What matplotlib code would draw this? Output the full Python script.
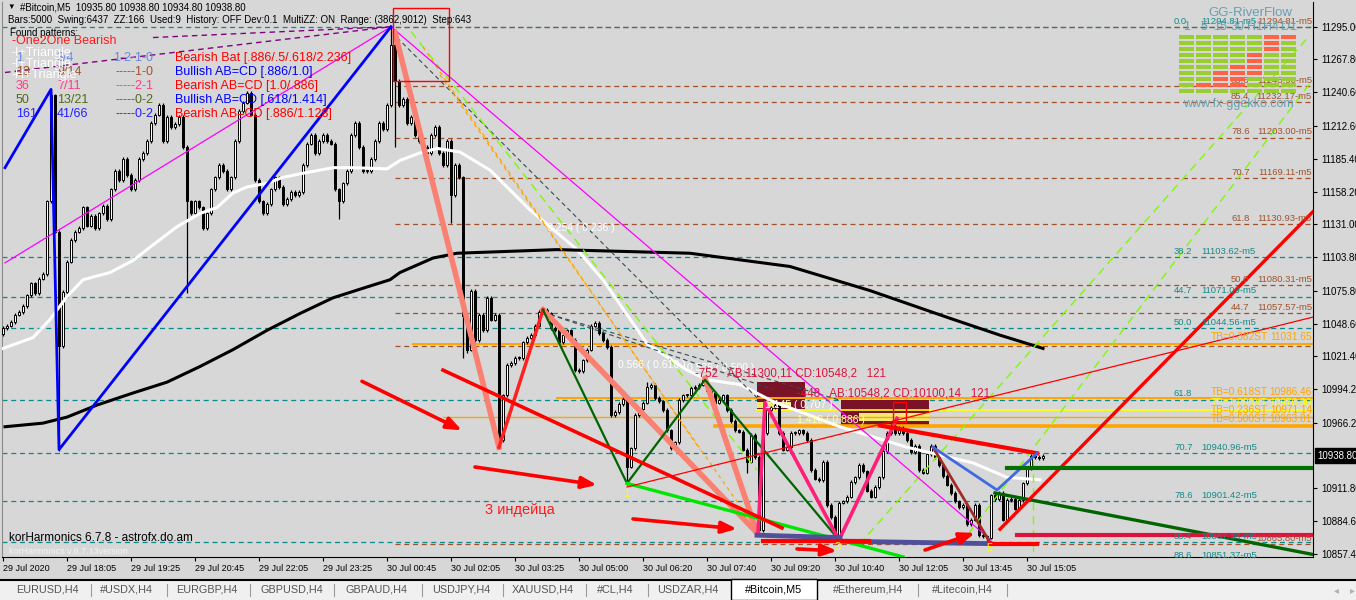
import numpy as np
import matplotlib
matplotlib.use("Agg")
import matplotlib.pyplot as plt
from matplotlib.patches import Rectangle

plt.rcParams['font.family'] = ['Liberation Sans', 'DejaVu Sans']

W, H = 1356, 600
BG = '#d7d7d7'

# ---- price data: one close per 5-minute bar (open = previous close) ----
FIRST_OPEN = 11040
CLOSES = [
    11045, 11047, 11050, 11056, 11058, 11063, 11072, 11082, 11074, 11086,
    11090, 11150, 11238, 11125, 11030, 11075, 11100, 11118, 11125, 11128,
    11145, 11130, 11138, 11128, 11140, 11146, 11135, 11160, 11175, 11168,
    11185, 11172, 11160, 11168, 11185, 11190, 11200, 11215, 11222, 11230,
    11200, 11220, 11212, 11214, 11220, 11195, 11150, 11140, 11150, 11145,
    11128, 11140, 11160, 11170, 11180, 11175, 11160, 11170, 11200, 11225,
    11232, 11240, 11222, 11168, 11150, 11140, 11148, 11160, 11170, 11162,
    11148, 11152, 11158, 11155, 11158, 11180, 11198, 11205, 11190, 11200,
    11205, 11200, 11198, 11160, 11150, 11165, 11175, 11205, 11215, 11195,
    11175, 11175, 11185, 11200, 11215, 11210, 11230, 11280, 11250, 11230,
    11235, 11215, 11220, 11205, 11200, 11195, 11190, 11205, 11212, 11190,
    11180, 11200, 11155, 11180, 11170, 11055, 11027, 11076, 11035, 11056,
    11043, 11070, 11052, 11056, 10952, 10989, 11014, 11016, 11020, 11020,
    11033, 11037, 11039, 11047, 11058, 11060, 11057, 11045, 11043, 11033,
    11039, 11043, 11035, 11010, 11009, 11018, 11027, 11047, 11049, 11041,
    11035, 11029, 10973, 10975, 10982, 10986, 10930, 10945, 10973, 10978,
    10983, 10996, 10998, 10987, 10984, 10977, 10960, 10945, 10950, 10985,
    10989, 10989, 10995, 10996, 10998, 11002, 10993, 10991, 10983, 10985,
    10989, 10977, 10968, 10960, 10959, 10944, 10934, 10956, 10938, 10877,
    10958, 10977, 10979, 10981, 10958, 10944, 10946, 10958, 10958, 10960,
    10958, 10952, 10927, 10920, 10919, 10934, 10898, 10888, 10872, 10900,
    10901, 10905, 10917, 10921, 10931, 10926, 10910, 10905, 10913, 10921,
    10943, 10958, 10964, 10958, 10962, 10958, 10952, 10942, 10947, 10927,
    10925, 10940, 10947, 10938, 10931, 10922, 10915, 10908, 10901, 10896,
    10898, 10882, 10886, 10898, 10873, 10872, 10871, 10906, 10903, 10908,
    10886, 10902, 10903, 10895, 10902, 10916, 10929, 10939, 10938, 10937,
    10938.8,
]
# long wicks (bar index -> extreme)
HIGH_SPIKES = {12: 11243, 97: 11295, 135: 11062, 161: 11000, 175: 11004, 223: 10970}
LOW_SPIKES = {14: 10943, 46: 11074, 84: 11135, 98: 11195, 112: 11132, 115: 11020,
              116: 11024, 124: 10946, 156: 10915, 186: 10925, 189: 10875,
              208: 10869, 246: 10866}

TIME_LABELS = ['29 Jul 2020', '29 Jul 18:05', '29 Jul 19:25', '29 Jul 20:45',
               '29 Jul 22:05', '29 Jul 23:25', '30 Jul 00:45', '30 Jul 02:05',
               '30 Jul 03:25', '30 Jul 05:00', '30 Jul 06:20', '30 Jul 07:40',
               '30 Jul 09:20', '30 Jul 10:40', '30 Jul 12:05', '30 Jul 13:45',
               '30 Jul 15:05']
PRICE_TICKS = [11295.00, 11267.80, 11240.60, 11212.60, 11185.40, 11158.20,
               11131.00, 11103.80, 11075.80, 11048.60, 11021.40, 10994.20,
               10966.20, 10911.80, 10884.60, 10857.40]
LAST_PRICE = 10938.80

# moving averages, read at (bar, price)
MA_FAST_BARS = [0, 7.5, 11.75, 16, 20, 26.75, 32.5, 36.75, 43.5, 49.25, 53.5, 57.5,
                61, 66, 70, 76, 82.5, 87.5, 96, 99.25, 104, 108.5, 114.25, 121.75,
                131.75, 143.5, 150, 161, 171, 176, 184.25, 192.5, 209.25, 226,
                242.5, 251, 259.25]
MA_FAST = [11028, 11037, 11052, 11071, 11085, 11091, 11101, 11112, 11129, 11140,
           11145, 11157, 11162, 11165, 11170, 11174, 11178, 11178, 11177, 11184,
           11190, 11194, 11191, 11176, 11143, 11110, 11085, 11032, 11010, 11002,
           10998, 10984, 10963, 10946, 10933, 10921, 10919]
MA_SLOW_BARS = [0.5, 10, 16, 23.5, 32.5, 41, 49.25, 57.5, 66, 74.25, 82.5, 91,
                96.75, 99.25, 107.5, 113.5, 138.5, 171.75, 196.75, 216.75,
                236.75, 249.25, 260]
MA_SLOW = [10963, 10966, 10971, 10981, 10991, 11000, 11013, 11027, 11043, 11057,
           11070, 11079, 11085, 11091, 11103, 11107, 11110, 11107, 11096, 11076,
           11053, 11039, 11028]

# harmonic / zigzag objects as (bar, price)
BLUE_ZZ = [(0.5, 11178), (12, 11243), (14, 10944), (97, 11295)]
MAGENTA = [(0.5, 11099), (97, 11295), (247, 10869)]
PURPLE_DASH = [[(0.5, 11257), (97, 11295)], [(37.5, 11286), (97, 11295)]]
SALMON = [[(98, 11290), (124, 10946)], [(135, 11060), (188.5, 10875)],
          [(175.5, 11003), (188.5, 10875)]]
RED_ZZ = [(124, 10946), (135, 11060)]
GREEN_ZZ = [(135, 11060), (156, 10916), (175.5, 11002), (209, 10869)]
PINK_ZZ = [(188.75, 10875), (190.5, 10983), (209, 10869), (223.5, 10970)]
LIME = [(156, 10916), (225, 10855)]
GREEN_TREND = [(248, 10908), (327.5, 10857)]
RED_TREND = [(219.25, 10964), (258.5, 10941)]
RED_UP = [(249.25, 10878), (327.5, 11141.5)]
RED_THIN = [(156, 10913), (327.5, 11054)]
RED_LONG = [(110, 11010), (194.75, 10879)]
BROWN_LEG = [(232.5, 10946), (246.75, 10867)]
ROYAL_ZZ = [(232.5, 10946), (248.5, 10910.5), (258.5, 10941)]
SLATE_BARS = [[(188.5, 10873), (209.25, 10871)], [(209.25, 10868), (246.75, 10866)]]
RED_FLAT = [[(190, 10868), (216.5, 10868)], [(246.75, 10866), (258.5, 10866)]]
GRAY_DASH = [[(98.5, 11286), (188.5, 10987)], [(135, 11058), (192.5, 10994)],
             [(135, 11058), (209.25, 10985)]]
LAWN_DASH = [[(102, 11291), (188.5, 10927)], [(214, 10865), (326.75, 11288)],
             [(239.25, 10865), (326.75, 11248)], [(257.5, 10935), (257.5, 10855)]]
ORANGE_DASH = [[(105, 11278), (174.25, 10944)], [(109.25, 11255), (188.5, 10877)]]
ARROWS = [((89.75, 11000.7), (114.75, 10960)), ((118, 10929.6), (148.5, 10914.7)),
          ((157.5, 10886.5), (183.5, 10878.2)), ((198.5, 10861.6), (208.5, 10860)),
          ((230.5, 10860.7), (243, 10874.9))]
GREEN_FLAT = 10929
GREEN_FLAT_FROM = 251
CRIMSON_FLAT = 10873.5
CRIMSON_FLAT_FROM = 253.5

# zones (bar0, bar1, price0, price1)
MAROON_BOXES = [(188.5, 200.5, 10978, 11000.5), (209.5, 231.5, 10964.7, 10985.4)]
YELLOW_STRIPS = [(188.5, 197, 10978.5, 10983.5), (214, 231.5, 10967.6, 10974.3)]
RED_FRAMES = [(97.5, 111.5, 11250, 11310.5), (222.5, 225.75, 10967, 10983.5)]

# fibo levels
TEAL_LEVELS = [11294.81, 11103.62, 11071.09, 11044.56, 10985.50, 10940.96,
               10901.42, 10867.39, 10851.37]
TEAL_PCT = ['0.0', '38.2', '44.7', '50.0', '61.8', '70.7', '78.6', '85.4', '88.6']
TEAL_TXT = ['11294.81-m5', '11103.62-m5', '11071.09-m5', '11044.56-m5', '',
            '10940.96-m5', '10901.42-m5', '10867.39-m5', '10851.37-m5']
BROWN_LEVELS = [11294.81, 11245.90, 11232.17, 11203.00, 11169.11, 11130.93,
                11080.31, 11057.57, 11029.70, 10865.80]
BROWN_PCT = ['', '88.6', '85.4', '78.6', '70.7', '61.8', '50.0', '44.7', '', '']
BROWN_TXT = ['11294.81-m5', '11245.90-m5', '11232.17-m5', '11203.00-m5',
             '11169.11-m5', '11130.93-m5', '11080.31-m5', '11057.57-m5', '',
             '10865.80-m5']
TB_LEVELS = [11031.65, 10986.46, 10976.80, 10971.14, 10963.81]
TB_NAMES = ['TB=0.382ST', 'TB=0.618ST', 'TB=1.000XT', 'TB=0.236ST', 'TB=0.500ST']
TB_FROM = [102.5, 138.5, 188.5, 110, 178]

# pattern list
PAT_NUM = ['1', '13', '36', '50', '161']
PAT_FRAC = ['3/4', '9/14', '7/11', '13/21', '41/66']
PAT_CODE = ['1-2-1-0', '-----1-0', '-----2-1', '-----0-2', '-----0-2']
PAT_NAME = ['Bearish Bat [.886/.5/.618/2.236]', 'Bullish AB=CD [.886/1.0]',
            'Bearish AB=CD [1.0/.886]', 'Bullish AB=CD [.618/1.414]',
            'Bearish AB=CD [.886/1.128]']
PAT_COLORS = ['#6a86e0', '#a0522d', '#ff3c80', '#4f6b1a', '#2222ff']

# GG-RiverFlow state: columns 1,5,15,30,H1,H4,D1 ; rows top->bottom, 1 = red
RIVER_COLS = ['1', '5', '15', '30', 'H1', 'H4', 'D1']
RIVER_STATE = [
    [0, 0, 0, 0, 0, 1, 1],
    [0, 0, 0, 0, 0, 1, 0],
    [0, 0, 0, 0, 0, 1, 0],
    [0, 0, 0, 0, 1, 0, 0],
    [0, 0, 0, 0, 1, 0, 0],
    [0, 0, 0, 1, 1, 0, 0],
    [0, 0, 1, 1, 1, 0, 0],
    [0, 0, 1, 1, 0, 0, 0],
    [0, 1, 1, 1, 0, 0, 0],
    [0, 0, 0, 0, 0, 0, 0],
]

TABS = ['EURUSD,H4', '#USDX,H4', 'EURGBP,H4', 'GBPUSD,H4', 'GBPAUD,H4', 'USDJPY,H4',
        'XAUUSD,H4', '#CL,H4', 'USDZAR,H4', '#Bitcoin,M5', '#Ethereum,H4', '#Litecoin,H4']
ACTIVE_TAB = '#Bitcoin,M5'


def fx(x):
    return x / W


def fy(y):
    return 1 - y / H


fig = plt.figure(figsize=(W / 100, H / 100), dpi=100, facecolor=BG)
ax = fig.add_axes([fx(2), fy(557), 1311 / W, 555 / H])
ax.set_facecolor(BG)
X_MAX = 327.5
ax.set_xlim(-0.25, X_MAX)
ax.set_ylim(10854.9, 11315.5)

# fibo levels
dash = (0, (4, 3))
for lv in TEAL_LEVELS:
    ax.plot([-0.25, X_MAX], [lv, lv], color='#0a8a8a', lw=0.9, ls=dash, zorder=1)
for lv in BROWN_LEVELS:
    ax.plot([98, X_MAX], [lv, lv], color='#a0522d', lw=0.9, ls=dash, zorder=1)
for lv, p, t in zip(TEAL_LEVELS, TEAL_PCT, TEAL_TXT):
    ax.text(292.75, lv + 1, p, color='#138a8a', fontsize=6.8, va='bottom', zorder=8)
    ax.text(299.5, lv + 1, t, color='#138a8a', fontsize=6.8, va='bottom', zorder=8)
for lv, p, t in zip(BROWN_LEVELS, BROWN_PCT, BROWN_TXT):
    ax.text(307, lv + 1, p, color='#a0522d', fontsize=6.8, va='bottom', zorder=8)
    ax.text(327.25, lv + 1, t, color='#a0522d', fontsize=6.8, va='bottom', ha='right', zorder=8)

# TB lines
tb_colors = ['#ffa500', '#ffa500', '#ffff00', '#ffa500', '#ffa500']
tb_widths = [1.4, 1.4, 1.2, 1.0, 2.6]
for lv, name, x0, c, lw in zip(TB_LEVELS, TB_NAMES, TB_FROM, tb_colors, tb_widths):
    ax.plot([x0, X_MAX], [lv, lv], color=c, lw=lw, zorder=2)
    ax.text(302, lv + 1.5, name, color=c, fontsize=7.3, va='bottom', zorder=8)
    ax.text(327.25, lv + 1.5, f'{lv:.2f}', color=c, fontsize=7.3, va='bottom',
            ha='right', zorder=8)

# zones
for b0, b1, p0, p1 in MAROON_BOXES:
    ax.add_patch(Rectangle((b0, p0), b1 - b0, p1 - p0, facecolor='#7a1228',
                           edgecolor='none', zorder=1.5))
for b0, b1, p0, p1 in YELLOW_STRIPS:
    ax.add_patch(Rectangle((b0, p0), b1 - b0, p1 - p0, facecolor='#f2ea70',
                           edgecolor='none', zorder=1.6))
for b0, b1, p0, p1 in RED_FRAMES:
    ax.add_patch(Rectangle((b0, p0), b1 - b0, p1 - p0, facecolor='none',
                           edgecolor='#ff0000', lw=1, zorder=6))

# candles
closes = np.array(CLOSES, dtype=float)
opens = np.r_[FIRST_OPEN, closes[:-1]]
bars = np.arange(len(closes))
highs = np.maximum(opens, closes) + 1.5
lows = np.minimum(opens, closes) - 1.5
for i, v in HIGH_SPIKES.items():
    highs[i] = v
for i, v in LOW_SPIKES.items():
    lows[i] = v
up = closes >= opens
body = np.maximum(np.abs(closes - opens), 0.8)
ax.vlines(bars, lows, highs, color='black', lw=0.9, zorder=3)
ax.bar(bars[up], body[up], bottom=opens[up], width=0.72, facecolor='white',
       edgecolor='black', lw=0.7, zorder=3.5)
ax.bar(bars[~up], body[~up], bottom=closes[~up], width=0.72, facecolor='black',
       edgecolor='black', lw=0.7, zorder=3.5)

# moving averages
ax.plot(MA_FAST_BARS, MA_FAST, color='white', lw=2.2, zorder=4)
ax.plot(MA_SLOW_BARS, MA_SLOW, color='black', lw=2.2, zorder=4)


def seg(pts, **kw):
    xs, ys = zip(*pts)
    ax.plot(xs, ys, **kw)


for pts in GRAY_DASH:
    seg(pts, color='#2f4f4f', lw=0.8, ls=dash, zorder=4.5)
for pts in LAWN_DASH:
    seg(pts, color='#7cfc00', lw=1.0, ls=(0, (6, 4)), zorder=4.5)
for pts in ORANGE_DASH:
    seg(pts, color='#ffa500', lw=0.9, ls=(0, (3, 3)), zorder=4.5)
for pts in PURPLE_DASH:
    seg(pts, color='#800080', lw=1.0, ls=dash, zorder=4.5)
seg(MAGENTA, color='#ff00ff', lw=0.9, zorder=4.6)
for pts in SALMON:
    seg(pts, color='#fa8072', lw=4, zorder=5)
seg(BLUE_ZZ, color='#0000ff', lw=2, zorder=5)
seg(RED_ZZ, color='#ff2020', lw=2.5, zorder=5)
seg(GREEN_ZZ, color='#006400', lw=1.6, zorder=5)
seg(PINK_ZZ, color='#ff1e78', lw=2.6, zorder=5)
seg(LIME, color='#00e600', lw=2.4, zorder=5)
seg(GREEN_TREND, color='#006400', lw=2.4, zorder=5)
seg(RED_TREND, color='#ff0000', lw=3, zorder=5)
seg(RED_UP, color='#ff0000', lw=2.4, zorder=5)
seg(RED_THIN, color='#ff0000', lw=0.9, zorder=5)
seg(RED_LONG, color='#ff0000', lw=2.6, zorder=5)
seg(BROWN_LEG, color='#a52a2a', lw=2, zorder=5)
seg(ROYAL_ZZ, color='#4169e1', lw=2, zorder=5)
for pts in SLATE_BARS:
    seg(pts, color='#50509a', lw=3.5, zorder=5)
for pts in RED_FLAT:
    seg(pts, color='#ff0000', lw=3, zorder=5)
ax.plot([GREEN_FLAT_FROM, X_MAX], [GREEN_FLAT, GREEN_FLAT], color='#007000', lw=3, zorder=5)
ax.plot([CRIMSON_FLAT_FROM, X_MAX], [CRIMSON_FLAT, CRIMSON_FLAT], color='#dc143c', lw=3, zorder=5)
for start, end in ARROWS:
    ax.annotate('', xy=end, xytext=start, zorder=6,
                arrowprops=dict(arrowstyle='-|>,head_length=0.9,head_width=0.35',
                                color='#ff0000', lw=2.6, shrinkA=0, shrinkB=0))

# chart labels
ax.text(136, 11128, '0.254 ( 0.236 )', color='white', fontsize=7.5, va='center', zorder=8)
ax.text(153.75, 11014, '0.566 ( 0.618 )', color='white', fontsize=7.5, va='center', zorder=8)
ax.text(171, 11012, '0.536 ( 0.500 )', color='white', fontsize=7.5, va='center', zorder=8)
ax.text(173, 11007, '-752   AB:11300,11 CD:10548,2   121', color='#dc143c',
        fontsize=8.3, va='center', zorder=8)
ax.text(198.5, 10991, '-448   AB:10548,2 CD:10100,14   121', color='#dc143c',
        fontsize=8.3, va='center', zorder=8)
ax.text(190.5, 10981, '1.145 ( 0.707 )', color='white', fontsize=7.5, va='center', zorder=8)
ax.text(198.5, 10969, '1.410 ( 0.886 )', color='#ffffa8', fontsize=7.5, va='center', zorder=8)
ax.text(120.5, 10894, '3 индейца', color='#ff1a1a', fontsize=10.5, va='center', zorder=8)
for b, p, t in [(155.75, 10907, '1'), (208.75, 10863, '3'), (246.75, 10862, '5')]:
    ax.text(b, p, t, color='#ffff00', fontsize=8, va='center', ha='center', zorder=8)

# axes
ax.yaxis.tick_right()
ax.set_yticks(PRICE_TICKS)
ax.set_yticklabels([f'{v:.2f}' for v in PRICE_TICKS])
ax.tick_params(axis='y', direction='out', length=3, pad=3, labelsize=7, colors='black')
ax.set_xticks(range(0, 16 * len(TIME_LABELS), 16))
ax.set_xticklabels(TIME_LABELS, ha='left')
ax.tick_params(axis='x', direction='out', length=3, pad=2, labelsize=6.5)
for s in ['top']:
    ax.spines[s].set_visible(False)
ax.spines['left'].set_color('#8a8a8a')
ax.spines['right'].set_color('black')
ax.spines['bottom'].set_color('black')
ax.text(1.003, LAST_PRICE, '10938.80', transform=ax.get_yaxis_transform(), color='white',
        fontsize=7, va='center', ha='left', clip_on=False,
        bbox=dict(boxstyle='square,pad=0.25', facecolor='black', edgecolor='black'))

# top-left info
fig.text(fx(7), fy(7), '▼', fontsize=5.5, va='center', color='black')
fig.text(fx(20), fy(7), '#Bitcoin,M5  10935.80 10938.80 10934.80 10938.80',
         fontsize=7, va='center')
fig.text(fx(8), fy(20), 'Bars:5000  Swing:6437  ZZ:166  Used:9  History: OFF Dev:0.1  '
         'MultiZZ: ON  Range: (3862,9012)  Step:643', fontsize=7, va='center')
fig.text(fx(10), fy(33), 'Found patterns:', fontsize=7, va='center')
fig.text(fx(12), fy(41), '-One2One Bearish', fontsize=9, va='center', color='#ff1a1a')
for k, row_y in enumerate([58, 72, 86, 100, 114]):
    fig.text(fx(16), fy(row_y), PAT_NUM[k], fontsize=9, va='center', color=PAT_COLORS[k])
    fig.text(fx(57), fy(row_y), PAT_FRAC[k], fontsize=9, va='center', color=PAT_COLORS[k])
    fig.text(fx(153), fy(row_y), PAT_CODE[k], fontsize=9, va='center', ha='right',
             color=PAT_COLORS[k])
    fig.text(fx(175), fy(row_y), PAT_NAME[k], fontsize=9, va='center',
             color='#ff0000' if PAT_NAME[k].startswith('Bearish') else '#0000ff')
for t, row_y in [('-I+Triangle', 53), ('-I+Triangle', 64), ('-H+Triangle', 75)]:
    fig.text(fx(12), fy(row_y), t, fontsize=9, va='center', color='white')
fig.text(fx(9), fy(538), 'korHarmonics 6.7.8 - astrofx.do.am', fontsize=8.5, va='center')
fig.text(fx(9), fy(551), 'korHarmonics v.6.7.13version', fontsize=6.5, va='center',
         color='#f4f4f4')

# GG-RiverFlow panel
gx0, gx1, gy0, gy1 = 1178, 1297, 34, 94
gax = fig.add_axes([fx(gx0), fy(gy1), (gx1 - gx0) / W, (gy1 - gy0) / H])
gax.set_xlim(0, len(RIVER_COLS))
gax.set_ylim(len(RIVER_STATE), 0)
gax.axis('off')
for r, row in enumerate(RIVER_STATE):
    for c, v in enumerate(row):
        gax.add_patch(Rectangle((c + 0.05, r + 0.1), 0.9, 0.8,
                                facecolor='#ff6347' if v else '#9acd32', edgecolor='none'))
cw = (gx1 - gx0) / len(RIVER_COLS)
fig.text(fx(1250), fy(13), 'GG-RiverFlow', fontsize=9.5, color='#6a9fb0', ha='center', va='center')
for c, name in enumerate(RIVER_COLS):
    fig.text(fx(gx0 + cw * (c + 0.5)), fy(27), name, fontsize=9, color='#6a9fb0',
             ha='center', va='center')
fig.text(fx(1238), fy(104), 'www.fx-ggekko.com', fontsize=9, color='#6a9fb0',
         ha='center', va='center')

# tab bar
tab = fig.add_axes([0, 0, 1, 20 / H])
tab.set_xlim(0, W)
tab.set_ylim(20, 0)
tab.set_facecolor('#f0f0f0')
tab.set_xticks([])
tab.set_yticks([])
for s in ['left', 'right', 'bottom']:
    tab.spines[s].set_visible(False)
tab.spines['top'].set_color('black')
tab.spines['top'].set_linewidth(1.5)
tab_centers = [47, 126, 207, 292, 377, 461, 543, 615, 688, 774, 868, 962]
separators = [91, 167, 250, 334, 422, 503, 586, 648, 918, 1007]
for sx in separators:
    tab.plot([sx, sx], [4, 16], color='#9a9a9a', lw=0.8)
tab.add_patch(Rectangle((731, -1.5), 86, 21, facecolor='white', edgecolor='black',
                        lw=1, clip_on=False, zorder=3))
for name, cx in zip(TABS, tab_centers):
    tab.text(cx, 10, name, fontsize=7.8, ha='center', va='center', zorder=4,
             color='black' if name == ACTIVE_TAB else '#555555')
tab.text(1336, 10, '◂', fontsize=7, ha='center', va='center', color='#b0b0b0')
tab.text(1352, 10, '▸', fontsize=7, ha='center', va='center', color='#b0b0b0')

fig.savefig('out.png', dpi=100, facecolor=BG)
